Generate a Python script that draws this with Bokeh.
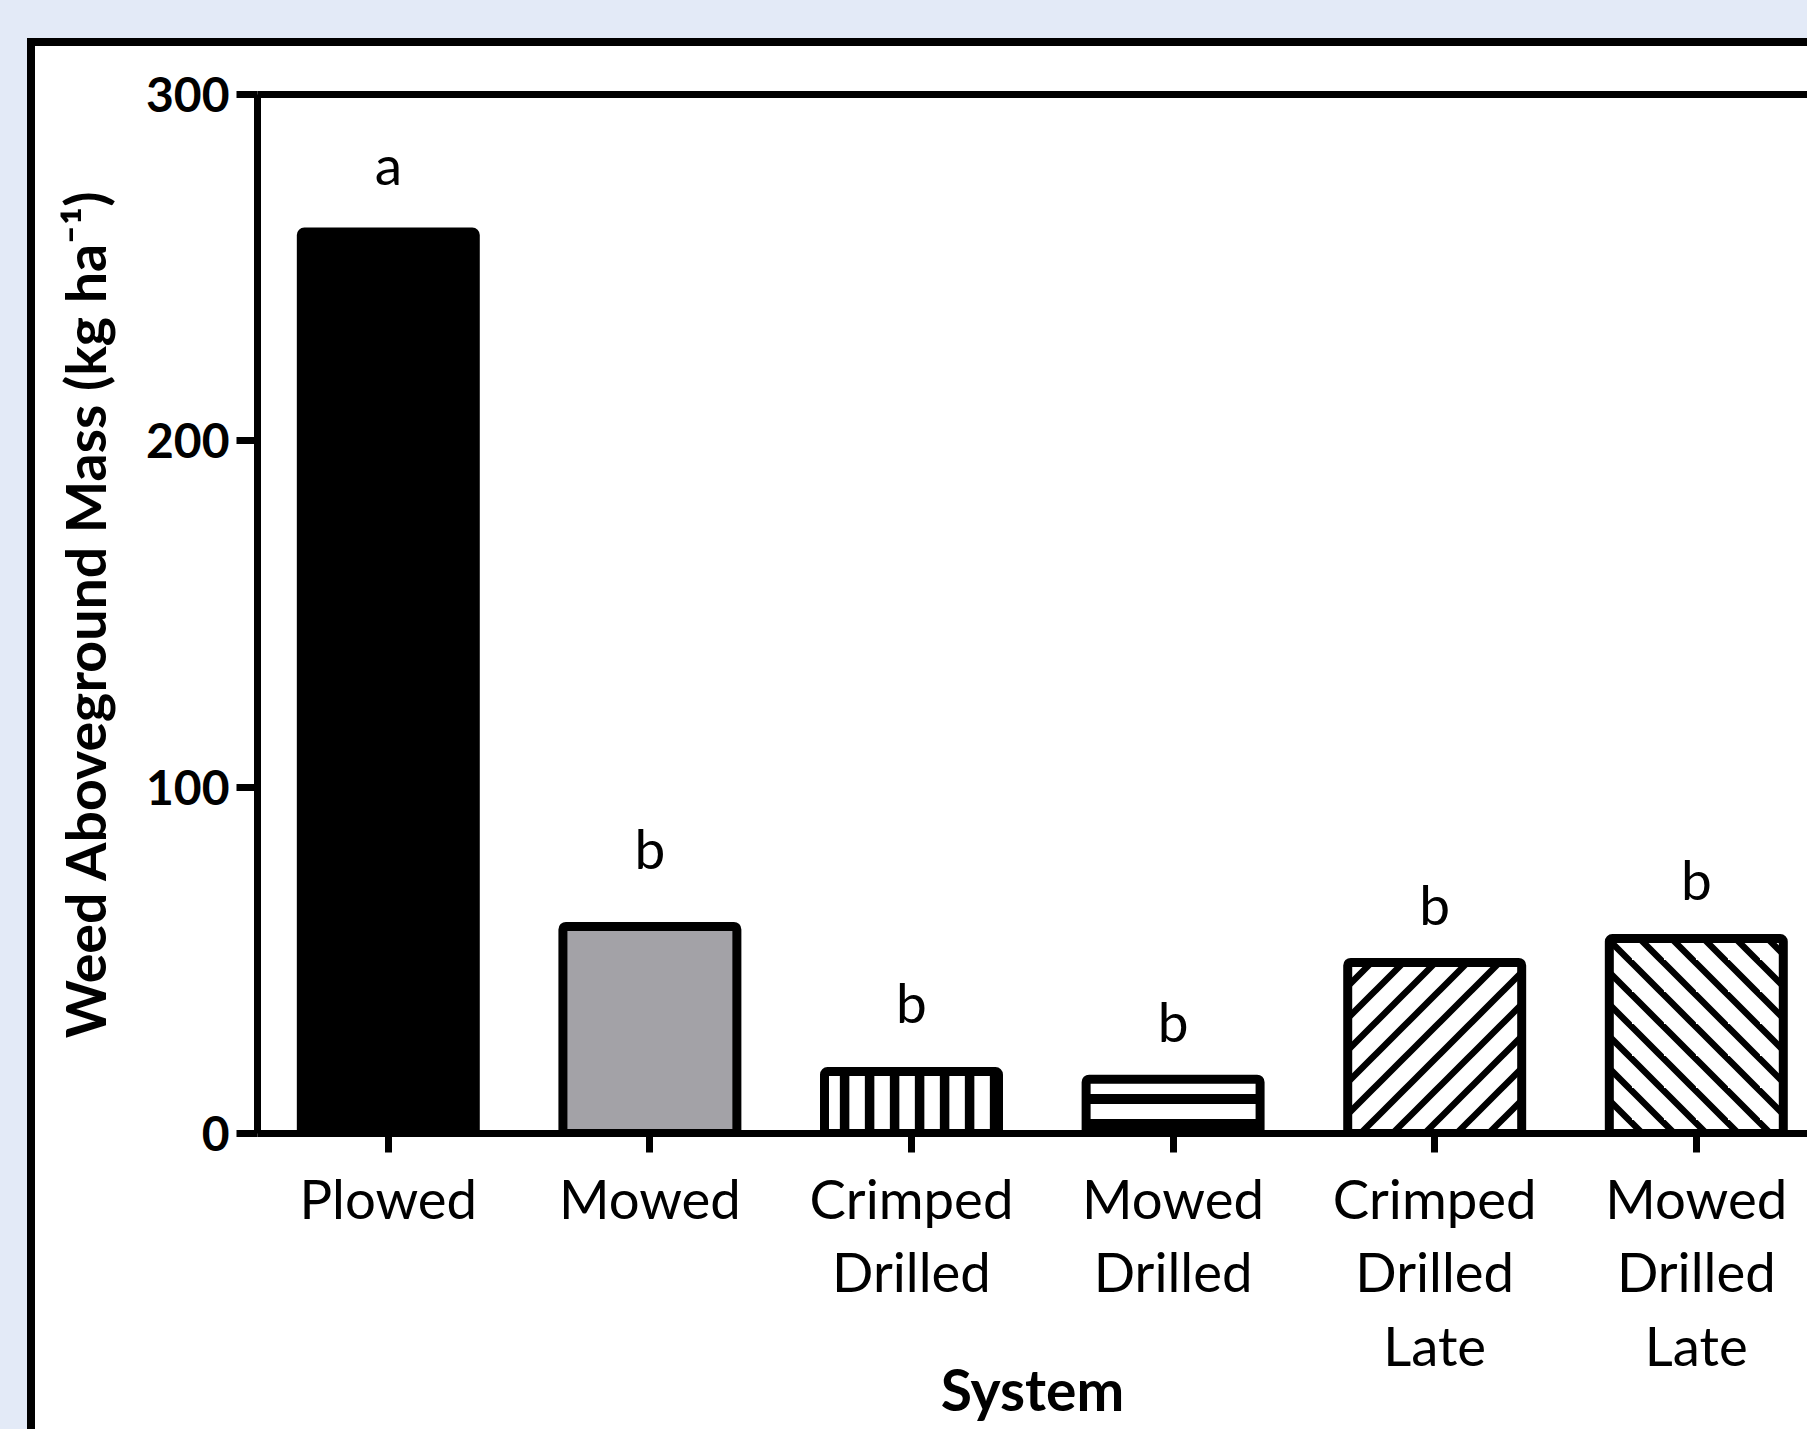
from bokeh.plotting import figure
from bokeh.models import (ColumnDataSource, Range1d, FixedTicker, LinearAxis,
                          CanvasTexture)
from bokeh.core.properties import value
from bokeh.embed import file_html
from bokeh.resources import INLINE

# ---------------- data ----------------
categories = ["Plowed", "Mowed", "Crimped\nDrilled", "Mowed\nDrilled",
              "Crimped\nDrilled\nLate", "Mowed\nDrilled\nLate"]
mass = [260.3, 59.8, 17.9, 15.7, 49.4, 56.3]
letters = ["a", "b", "b", "b", "b", "b"]
letter_y = [280.0, 82.5, 38.0, 32.5, 66.3, 73.6]
y_ticks = [0, 100, 200, 300]
x_title = "System"
y_title = "Weed Aboveground Mass (kg ha\u207b\u00b9)"

# ---------------- styles ----------------
fills = ["black", "#a3a2a7", "white", "white", "white", "white"]
hatches = [" ", " ", "vlines", "hlines", "rdiag", "ldiag"]
hatch_scales = [25, 25, 25, 25, 32, 32]
hatch_weights = [9, 9, 9, 9, 6.5, 6.5]
FONT = "Lato"
BG = "#e3eaf7"

W, H = 1807, 1429
FL, FT, FB = 257, 94, 1133          # frame left / top / bottom (px)
XPX = 261.6                          # px per category
x_end = (W - FL) / XPX

x_pos = [i + 0.5 for i in range(len(categories))]

src = ColumnDataSource(dict(x=x_pos, top=mass, fill=fills, hatch=hatches,
                            hs=hatch_scales, hw=hatch_weights))

p = figure(width=W, height=H, output_backend="svg", toolbar_location=None,
           x_range=Range1d(0, x_end), y_range=Range1d(0, 300),
           min_border_left=FL, min_border_right=0, min_border_top=FT,
           min_border_bottom=H - FB, background_fill_color="white",
           border_fill_color=None, border_fill_alpha=0.0,
           outline_line_color=None)

p.xgrid.visible = False
p.ygrid.visible = False


def texture(size, body):
    return CanvasTexture(code="""
const s = %d;
if (ctx.canvas) { ctx.canvas.width = s; ctx.canvas.height = s; }
ctx.fillStyle = "black";
ctx.strokeStyle = "black";
ctx.lineWidth = 6.5;
ctx.lineCap = "butt";
ctx.beginPath();
%s
""" % (size, body))


textures = {
    "vlines": texture(25, "ctx.fillRect(14.85, 0, 9.5, s);"),
    "hlines": texture(25, "ctx.fillRect(0, 19, s, 6); ctx.fillRect(0, 0, s, 4);"),
    "rdiag": texture(32, "for (const c of [-2, 30, 62]) {"
                         " ctx.moveTo(c + s, -s); ctx.lineTo(c - 2*s, 2*s); }"
                         " ctx.stroke();"),
    "ldiag": texture(32, "for (const c of [-3, 29, 61]) {"
                         " ctx.moveTo(c - s, -s); ctx.lineTo(c + 2*s, 2*s); }"
                         " ctx.stroke();"),
}

p.vbar(x="x", top="top", bottom=0, width=0.665, source=src,
       fill_color="fill", line_color="black", line_width=9,
       hatch_pattern="hatch", hatch_scale="hs", hatch_weight="hw",
       hatch_color="black", hatch_extra=textures, border_radius=3)

p.text(x=x_pos, y=letter_y, text=letters, text_font=value(FONT),
       text_font_size="55px", text_align="center",
       text_baseline="alphabetic", text_color="black")

# axes
for ax in (p.xaxis[0], p.yaxis[0]):
    ax.axis_line_width = 7
    ax.axis_line_color = "black"
    ax.major_tick_line_width = 7
    ax.major_tick_line_color = "black"
    ax.major_tick_in = 0
    ax.minor_tick_in = 0
    ax.minor_tick_out = 0
    ax.major_label_text_color = "black"
    ax.axis_label_text_color = "black"

yax = p.yaxis[0]
yax.ticker = FixedTicker(ticks=y_ticks)
yax.major_tick_out = 21
yax.major_label_standoff = 7
yax.major_label_text_font = FONT
yax.major_label_text_font_style = "bold"
yax.major_label_text_font_size = "48px"
yax.axis_label = y_title
yax.axis_label_text_font = FONT
yax.axis_label_text_font_style = "bold"
yax.axis_label_text_font_size = "55.5px"
yax.axis_label_standoff = 25

xax = p.xaxis[0]
xax.ticker = FixedTicker(ticks=x_pos)
xax.major_label_overrides = {x: c for x, c in zip(x_pos, categories)}
xax.major_tick_out = 19
xax.major_label_standoff = 12
xax.major_label_text_font = FONT
xax.major_label_text_font_size = "54.5px"
xax.major_label_text_line_height = 1.12
xax.axis_label = x_title
xax.axis_label_text_font = FONT
xax.axis_label_text_font_style = "bold"
xax.axis_label_text_font_size = "57px"
xax.axis_label_standoff = -26

top_axis = LinearAxis(ticker=FixedTicker(ticks=[]), axis_line_width=7,
                      axis_line_color="black", major_label_text_font_size="0px",
                      major_tick_out=0, major_tick_in=0, minor_tick_out=0,
                      minor_tick_in=0)
p.add_layout(top_axis, "above")

# page surround: light-blue margin and black panel frame behind the transparent canvas
css = ("<style>html,body{margin:0;}body{background:"
       "linear-gradient(%(bg)s,%(bg)s) 0 0/100%% 38px no-repeat,"
       "linear-gradient(%(bg)s,%(bg)s) 0 0/27px 100%% no-repeat,"
       "linear-gradient(#000,#000) 27px 38px/100%% 8px no-repeat,"
       "linear-gradient(#000,#000) 27px 38px/8px 100%% no-repeat,"
       "#ffffff;}</style>") % {"bg": BG}

html = file_html(p, INLINE, title="Weed Aboveground Mass")
html = html.replace("<head>", "<head>" + css, 1)
open("out.html", "w").write(html)
